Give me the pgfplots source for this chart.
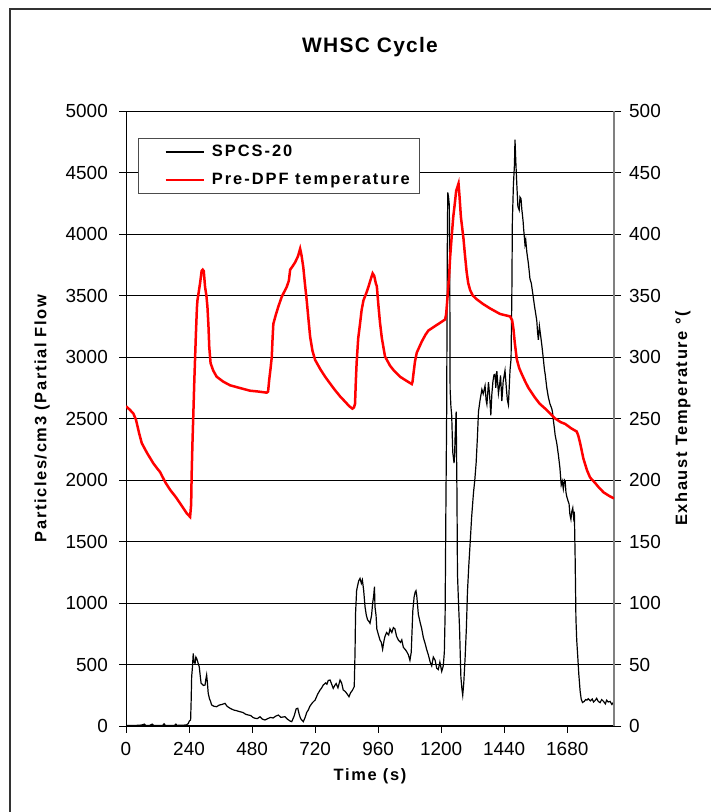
\documentclass[border=0pt]{standalone}
\usepackage{fontspec}
\setmainfont{Liberation Sans}
\newfontfamily\legfont[LetterSpace=12]{Liberation Sans}
\newfontfamily\labfont[LetterSpace=10]{Liberation Sans}
\newfontfamily\titfont[LetterSpace=6]{Liberation Sans}
\usepackage{pgfplots}
\pgfplotsset{compat=1.18}
\usepackage{pgfplotstable}

\pgfplotstableread{
t P
0 5
20 5
40 5
60 8
70 15
75 5
90 5
100 15
105 5
140 5
145 18
150 5
185 5
190 15
195 5
230 8
237 20
241 40
246 50
248 200
250 400
253 480
256 590
259 520
263 510
266 560
269 550
272 530
276 500
279 480
283 400
286 347
290 340
295 330
301 333
304 380
307 415
310 350
313 266
318 220
322 200
326 171
335 160
345 157
355 170
365 175
377 184
385 160
396 144
410 130
420 125
434 116
445 110
456 95
466 89
475 85
483 70
491 63
500 60
510 75
520 55
529 49
540 60
550 70
560 65
570 80
580 89
590 70
605 76
615 55
625 40
631 35
640 80
648 140
654 144
660 90
665 60
669 49
675 35
682 70
688 110
694 130
700 160
710 190
720 211
730 260
739 293
745 310
751 333
760 350
765 340
770 370
777 374
783 340
789 306
795 330
800 345
807 310
815 374
821 350
827 293
835 280
842 260
849 238
855 270
862 290
869 320
872 600
874 916
878 1100
881 1133
886 1180
891 1200
896 1160
900 1187
905 1100
910 970
915 900
920 862
925 850
929 835
935 900
939 998
943 1059
946 1133
948 968
952 900
955 789
960 750
967 699
972 680
977 624
982 690
986 728
992 760
1000 740
1005 789
1012 760
1018 800
1024 789
1030 730
1037 699
1045 680
1050 700
1056 639
1064 620
1070 600
1075 579
1081 534
1086 600
1092 938
1097 1050
1101 1088
1104 1100
1107 1059
1113 908
1119 850
1126 789
1132 720
1139 669
1145 620
1151 579
1158 520
1164 489
1170 560
1177 534
1183 470
1189 459
1195 520
1202 444
1208 489
1212 600
1215 908
1218 1800
1221 2586
1223 3800
1225 4338
1228 4300
1231 4233
1233 3500
1234 2736
1237 2600
1240 2526
1244 2227
1249 2137
1251 2200
1253 2346
1255 2450
1257 2556
1260 1900
1262 1238
1266 1000
1270 789
1273 550
1275 399
1279 300
1282 250
1286 350
1291 549
1296 800
1300 1088
1305 1300
1310 1478
1316 1700
1323 1897
1328 2000
1333 2137
1338 2350
1342 2556
1348 2650
1355 2736
1360 2700
1367 2766
1371 2650
1374 2616
1377 2700
1380 2796
1384 2700
1389 2526
1393 2700
1397 2800
1401 2855
1405 2859
1408 2750
1412 2885
1418 2704
1422 2766
1426 2850
1431 2642
1436 2800
1443 2890
1448 2750
1452 2650
1456 2611
1459 2750
1462 2890
1466 2984
1469 3500
1471 4101
1475 4400
1479 4566
1481 4768
1484 4597
1488 4400
1492 4225
1497 4194
1500 4300
1504 4287
1507 4200
1509 4163
1512 4100
1514 4039
1519 3915
1522 3950
1526 3853
1532 3760
1535 3700
1538 3635
1543 3600
1547 3542
1551 3480
1555 3418
1560 3350
1564 3294
1567 3200
1570 3139
1574 3250
1577 3201
1583 3100
1589 2984
1593 2900
1596 2859
1602 2750
1608 2673
1614 2620
1621 2580
1624 2550
1627 2487
1631 2420
1634 2363
1640 2300
1646 2208
1652 2100
1657 1959
1661 1990
1665 1928
1669 2000
1672 1990
1675 1900
1678 1866
1683 1830
1687 1804
1690 1720
1694 1680
1697 1740
1701 1773
1704 1700
1707 1742
1710 1370
1713 874
1716 700
1720 563
1724 420
1729 284
1733 220
1738 191
1745 200
1750 215
1755 210
1760 222
1768 205
1775 220
1780 195
1786 207
1792 225
1798 200
1805 190
1811 215
1818 200
1825 180
1830 210
1836 195
1843 200
1850 175
1855 190
1858 185
}\particles

\pgfplotstableread{
t T
0 260
15 257
28 254
38 249
50 238
60 230
80 222
104 213.6
120 209
129 206.7
150 198
168 192
190 186
206 181
231 173
244 170
248 180
250 205
253 230
256 251
260 280
263 299
266 318
270 340
272 346
282 360
288 370
292 371
296 370
301 357
306 350
310 341
314 325
317 308
322 295
332 289
345 284
370 280
396 277
430 275
472 272.6
500 272
536 271
541 272
545 281
550 290
555 300
558 315
561 327
570 334
580 341
593 349
612 357
620 362
625 371
635 374
644 377
655 382
663 388
668 383
675 373
681 360
688 346
695 330
701 316.5
710 305
720 297.6
740 290
758 284
775 279
796 273
815 268
834 263.7
850 260
862 258
868 259
872 262
875 280
878 295
884 315
891 327
897 338
904 346
915 352
923 357
930 362
939 368
945 366
951 360
955 357.5
961 342
967 328
974 315.5
986 300.5
1005 293
1020 289
1043 284
1065 281
1088 278
1091 280
1094 285.5
1100 296
1107 303.5
1126 312.5
1140 318
1151 321.5
1183 326
1215 330.5
1219 335
1224 348.5
1230 365
1234 381
1240 398
1246 414
1252 425
1257 435
1266 441
1270 430
1275 414
1280 405
1285 396
1290 384
1297 369
1303 360
1310 354.5
1320 350
1335 347
1360 343
1386 339.5
1424 335
1462 333
1470 330
1475 323
1480 312
1488 298
1497 291
1507 286
1520 280
1532 275
1557 267
1575 262
1596 258
1615 254
1634 250
1655 247
1672 245.6
1695 242
1716 239.4
1722 236
1729 230
1735 224
1741 217.7
1755 208
1767 202
1786 197.6
1800 194
1818 190
1840 187
1858 185
}\temperature

\begin{document}
\begin{tikzpicture}[x=1bp,y=1bp]
\useasboundingbox (0,0) rectangle (711,812);
\draw[black!80, line width=1.3bp] (10,-10) -- (10,803) -- (730,803);
\begin{axis}[
  at={(126bp,86bp)}, anchor=south west,
  width=488bp, height=615bp, scale only axis,
  xmin=0, xmax=1858, ymin=0, ymax=5000,
  axis x line*=bottom, axis y line*=left,
  axis line style={black, line width=1bp},
  xtick={0,240,480,720,960,1200,1440,1680},
  xticklabels={0,240,480,720,960,1200,1440,1680},
  ytick={0,500,1000,1500,2000,2500,3000,3500,4000,4500,5000},
  yticklabels={0,500,1000,1500,2000,2500,3000,3500,4000,4500,5000},
  tick align=outside, major tick length=7bp,
  tick style={black, line width=0.9bp},
  ymajorgrids, major grid style={black, line width=0.8bp},
  ticklabel style={font=\fontsize{19}{22}\selectfont},
  xticklabel style={inner sep=0pt, anchor=north, yshift=-9bp},
  yticklabel style={inner sep=0pt, anchor=east, xshift=-11bp},
  title={WHSC Cycle},
  title style={at={(axis description cs:0.5,1.094)}, anchor=center, font=\titfont\bfseries\fontsize{21}{24}\selectfont},
  xlabel={Time (s)},
  xlabel style={at={(axis description cs:0.5,-0.0813)}, anchor=center, font=\labfont\bfseries\fontsize{16.5}{19}\selectfont},
  ylabel={Particles/cm3 (Partial Flow},
  every axis y label/.style={at={(axis description cs:-0.172,0.5)}, rotate=90, anchor=center, font=\labfont\bfseries\fontsize{16.5}{19}\selectfont},
]
\addplot[black, line width=1.2bp] table[x=t, y=P] {\particles};
\end{axis}
\begin{axis}[
  at={(126bp,86bp)}, anchor=south west,
  width=488bp, height=615bp, scale only axis,
  xmin=0, xmax=1858, ymin=0, ymax=500,
  axis x line=none, axis y line*=right,
  axis line style={black!50, line width=1.4bp},
  ytick={0,50,100,150,200,250,300,350,400,450,500},
  yticklabels={0,50,100,150,200,250,300,350,400,450,500},
  tick align=outside, major tick length=7bp,
  tick style={black, line width=0.9bp},
  ticklabel style={font=\fontsize{19}{22}\selectfont},
  yticklabel style={inner sep=0pt, anchor=west, xshift=8bp},
  ylabel={Exhaust Temperature °(},
  every axis y label/.style={at={(axis description cs:1.141,0.5)}, rotate=90, anchor=center, font=\labfont\bfseries\fontsize{16.5}{19}\selectfont},
  legend style={at={(axis description cs:0.0246,0.956)}, anchor=north west,
    draw=black!70, line width=0.8bp, fill=white, font=\legfont\bfseries\fontsize{16.5}{19}\selectfont,
    inner xsep=8bp, inner ysep=5bp, row sep=11bp},
  legend cell align=left,
  legend image code/.code={\path (0bp,0bp) (61bp,0bp); \draw[#1] (18bp,0bp) -- (56bp,0bp);},
]
\addlegendimage{black, line width=1.2bp}
\addlegendentry{SPCS-20}
\addplot[red, line width=2.5bp] table[x=t, y=T] {\temperature};
\addlegendentry{Pre-DPF temperature}
\end{axis}
\end{tikzpicture}
\end{document}
